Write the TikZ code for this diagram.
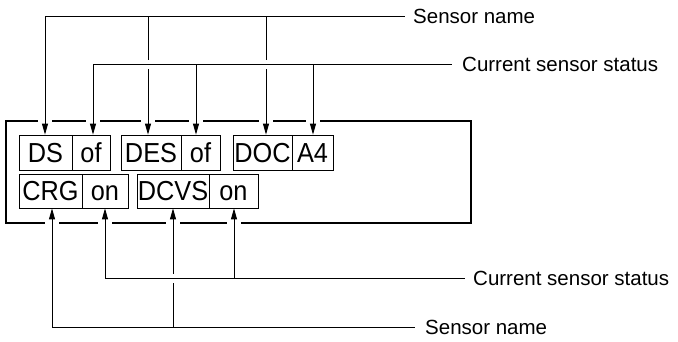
\documentclass[tikz,border=0pt]{standalone}
\usepackage{fontspec}
\usepackage{graphicx}
\setmainfont{Liberation Sans}
\usetikzlibrary{arrows.meta}
\newcommand\cellfit[1]{\scalebox{0.92}[1]{#1}}
\begin{document}
\begin{tikzpicture}[x=1pt,y=-1pt,
  cell/.style={draw, line width=0.8pt, inner sep=0pt, font=\fontsize{27.5}{27.5}\selectfont, text height=19.7pt, text depth=0pt},
  lbl/.style={inner sep=0pt, font=\fontsize{20.5}{20.5}\selectfont, anchor=base west},
  conn/.style={line width=0.9pt},
  arr/.style={conn, -{Triangle[length=11pt,width=6pt]}},
  halo/.style={preaction={draw=white, line width=9pt}}]
\useasboundingbox (0,0) rectangle (678,341);
% frame with gaps
\draw[line width=2pt] (6,121) rectangle (471,223);
\foreach \x in {45,93,148,196,266,313} \fill[white] ({\x-7},117) rectangle ({\x+7},125);
\foreach \x in {52,105,173,234} \fill[white] ({\x-7},219) rectangle ({\x+7},227);
% cells row 1
\node[cell, minimum width=53pt, minimum height=35pt] (ds) at (45.5,152.5) {\cellfit{DS}};
\node[cell, minimum width=38pt, minimum height=35pt] (of1) at (91,152.5) {\cellfit{of}};
\node[cell, minimum width=60pt, minimum height=35pt] (des) at (151,152.5) {\cellfit{DES}};
\node[cell, minimum width=39pt, minimum height=35pt] (of2) at (200.5,152.5) {\cellfit{of}};
\node[cell, minimum width=59pt, minimum height=35pt] (doc) at (262.5,152.5) {\cellfit{DOC}};
\node[cell, minimum width=41pt, minimum height=35pt] (a4) at (312.5,152.5) {\cellfit{A4}};
% cells row 2
\node[cell, minimum width=63pt, minimum height=34pt] (crg) at (50.5,191) {\cellfit{CRG}};
\node[cell, minimum width=46pt, minimum height=34pt] (on1) at (105,191) {\cellfit{on}};
\node[cell, minimum width=72pt, minimum height=34pt] (dcvs) at (173,191) {\cellfit{DCVS}};
\node[cell, minimum width=49pt, minimum height=34pt] (on2) at (233.5,191) {\cellfit{on}};
% labels
\node[lbl] (sn1) at (413,23.5) {Sensor name};
\node[lbl] (cs1) at (462,71.5) {Current sensor status};
\node[lbl] (cs2) at (473,285.5) {Current sensor status};
\node[lbl] (sn2) at (425,334.5) {Sensor name};
% top bus: sensor name
\coordinate (a1) at (45,16);
\coordinate (a2) at (148,16);
\coordinate (a3) at (266,16);
\draw[conn, shorten >=8pt] (a1) -- (a1 -| sn1.west);
\draw[arr] (a1) -- (a1 |- ds.north);
\draw[arr] (a2) -- (a2 |- des.north);
\draw[arr] (a3) -- (a3 |- doc.north);
% top bus: current status
\coordinate (b1) at (93,64);
\coordinate (b2) at (196,64);
\coordinate (b3) at (313,64);
\draw[conn, halo, shorten >=10pt] (b1) -- (b1 -| cs1.west);
\draw[arr] (b1) -- (b1 |- of1.north);
\draw[arr] (b2) -- (b2 |- of2.north);
\draw[arr] (b3) -- (b3 |- a4.north);
% bottom bus: sensor name
\coordinate (d1) at (52,327);
\coordinate (d2) at (173,327);
\draw[conn, shorten >=10pt] (d1) -- (d1 -| sn2.west);
\draw[arr] (d1) -- (d1 |- crg.south);
\draw[arr] (d2) -- (d2 |- dcvs.south);
% bottom bus: current status
\coordinate (c1) at (105,278);
\coordinate (c2) at (234,278);
\draw[conn, halo, shorten >=8pt] (c1) -- (c1 -| cs2.west);
\draw[arr] (c1) -- (c1 |- on1.south);
\draw[arr] (c2) -- (c2 |- on2.south);
\end{tikzpicture}
\end{document}
